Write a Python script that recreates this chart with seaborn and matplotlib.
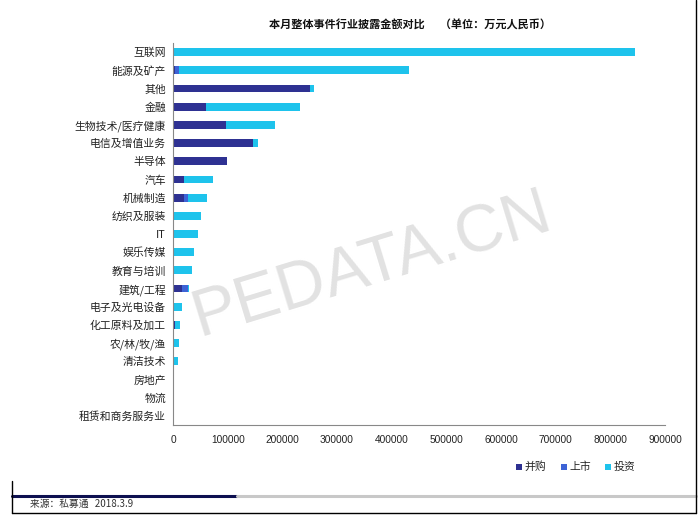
import numpy as np
import pandas as pd
import matplotlib
matplotlib.use("Agg")
import matplotlib.pyplot as plt
from matplotlib.lines import Line2D
import seaborn as sns

categories = ["互联网", "能源及矿产", "其他", "金融", "生物技术/医疗健康", "电信及增值业务",
              "半导体", "汽车", "机械制造", "纺织及服装", "IT", "娱乐传媒", "教育与培训",
              "建筑/工程", "电子及光电设备", "化工原料及加工", "农/林/牧/渔", "清洁技术",
              "房地产", "物流", "租赁和商务服务业"]
ma = [0, 3500, 250000, 61000, 97000, 147000, 99000, 21000, 20000, 0, 1500, 0, 0,
      16000, 0, 4000, 0, 0, 0, 0, 0]
ipo = [0, 7000, 0, 0, 0, 0, 0, 0, 8000, 0, 0, 0, 0,
       12000, 0, 0, 0, 0, 0, 0, 0]
vc = [846000, 421000, 8000, 172000, 90000, 9000, 0, 52000, 34000, 52000, 44500, 39000, 34000,
      1500, 16000, 8000, 11500, 9000, 1500, 300, 100]
series_names = ["并购", "上市", "投资"]
series_colors = ["#2e3192", "#3d63d6", "#1ec3ec"]
xticks = [0, 100000, 200000, 300000, 400000, 500000, 600000, 700000, 800000, 900000]

df = pd.DataFrame({"cat": categories, "ma": ma, "ipo": ipo, "vc": vc})
df["c1"] = df["ma"]
df["c2"] = df["ma"] + df["ipo"]
df["c3"] = df["c2"] + df["vc"]

sns.set_theme(style="white")
plt.rcParams["font.family"] = ["Noto Sans CJK SC", "DejaVu Sans"]

fig = plt.figure(figsize=(6.99, 5.22), dpi=100)

# watermark (behind the axes)
fig.text(0.533, 0.49, "PEDATA.CN", fontsize=48, color="#e2e2e2", rotation=17,
         ha="center", va="center", family=["Liberation Sans", "DejaVu Sans"], zorder=0)

ax = fig.add_axes([173 / 699, 1 - 425 / 522, (665 - 173) / 699, (425 - 43) / 522])
ax.patch.set_alpha(0)

for col, color in zip(["c3", "c2", "c1"], series_colors[::-1]):
    sns.barplot(data=df, x=col, y="cat", orient="h", color=color, width=0.43,
                saturation=1, ax=ax, linewidth=0)

ax.set_xlim(0, 900000)
ax.set_xticks(xticks)
ax.set_xticklabels([str(t) for t in xticks], fontsize=7.3, color="#222222",
                   family=["Liberation Sans", "DejaVu Sans"])
ax.set_yticks(range(len(categories)))
ax.set_yticklabels(categories, fontsize=7.8, color="#222222")
ax.set_xlabel("")
ax.set_ylabel("")
ax.set_ylim(len(categories) - 0.5, -0.5)

for s in ["top", "right"]:
    ax.spines[s].set_visible(False)
for s in ["left", "bottom"]:
    ax.spines[s].set_color("#888888")
    ax.spines[s].set_linewidth(0.8)

# boundary tick marks on the category axis
ax.set_yticks(np.arange(-0.5, len(categories), 1.0), minor=True)
ax.tick_params(axis="y", which="major", length=0, pad=5)
ax.tick_params(axis="y", which="minor", length=4, color="#888888", width=0.8, direction="out")
ax.tick_params(axis="x", which="major", length=3, color="#888888", width=0.8, direction="out", pad=4)

# title
fig.text(410 / 699, 1 - 25 / 522, "本月整体事件行业披露金额对比      （单位：万元人民币）",
         ha="center", va="center", fontsize=8, fontweight="bold", color="#111111")

# legend
handles = [Line2D([0], [0], marker="s", linestyle="none", markersize=4.5,
                  markerfacecolor=c, markeredgewidth=0) for c in series_colors]
fig.legend(handles, series_names, loc="center", bbox_to_anchor=(575 / 699, 1 - 467 / 522),
           ncol=3, frameon=False, fontsize=7.8, handletextpad=0.1, columnspacing=1.2,
           handlelength=0.8)

# footer lines and source
fig.add_artist(Line2D([12 / 699, 237 / 699], [1 - 496 / 522] * 2, color="#0d1050", lw=2.2))
fig.add_artist(Line2D([237 / 699, 696 / 699], [1 - 496 / 522] * 2, color="#c8c8c8", lw=2.2))
fig.text(30 / 699, 1 - 504 / 522, "来源：私募通   2018.3.9", fontsize=7, color="#333333",
         ha="left", va="center")

# frame
fig.add_artist(Line2D([12 / 699, 12 / 699], [1 - 481 / 522, 1 - 513 / 522], color="black", lw=1))
fig.add_artist(Line2D([12 / 699, 696 / 699], [1 - 513 / 522] * 2, color="black", lw=1))
fig.add_artist(Line2D([696 / 699, 696 / 699], [1 - 0 / 522, 1 - 513 / 522], color="black", lw=1))

fig.savefig("out.png", dpi=100, facecolor="white")
